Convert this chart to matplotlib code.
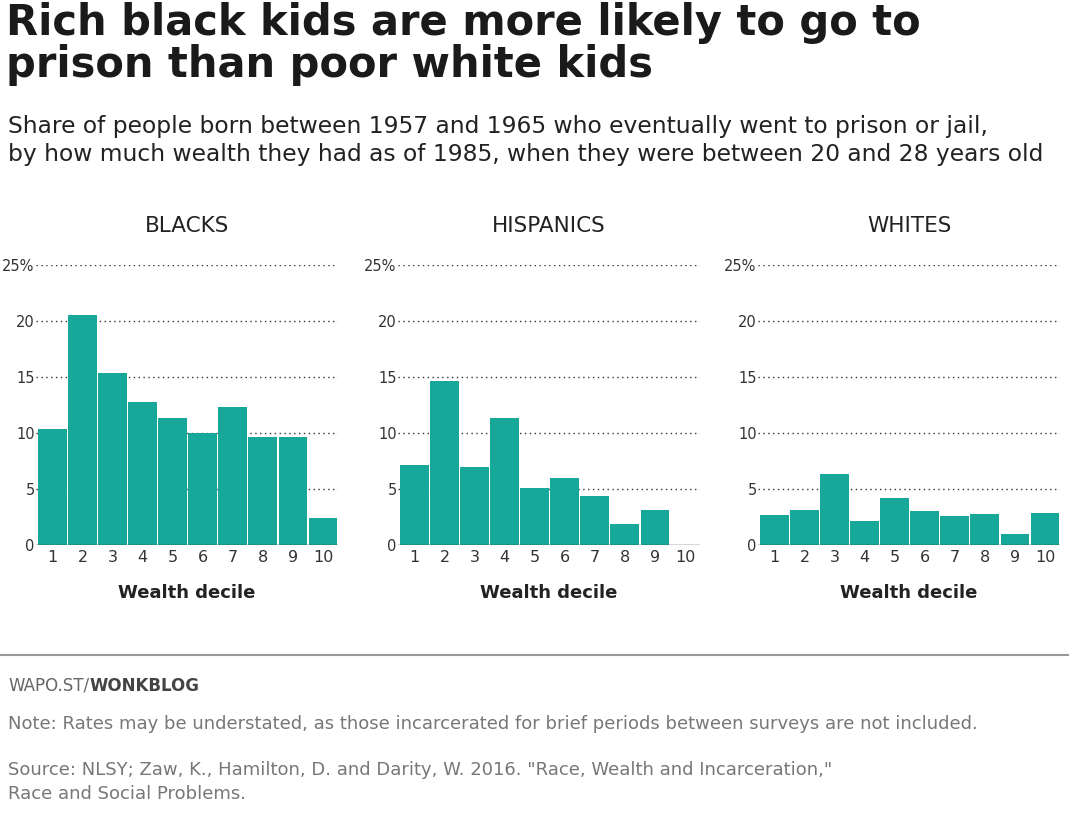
import numpy as np
import matplotlib.pyplot as plt

deciles = list(range(1, 11))
groups = ["BLACKS", "HISPANICS", "WHITES"]
blacks = [10.4, 20.5, 15.4, 12.8, 11.3, 10.0, 12.3, 9.6, 9.6, 2.4]
hispanics = [7.1, 14.6, 7.0, 11.3, 5.1, 6.0, 4.4, 1.9, 3.1, 0.0]
whites = [2.7, 3.1, 6.3, 2.1, 4.2, 3.0, 2.6, 2.8, 1.0, 2.9]
yticks = [0, 5, 10, 15, 20, 25]
ytick_labels = ["0", "5", "10", "15", "20", "25%"]

W, H = 1079, 814
fig = plt.figure(figsize=(W / 100, H / 100), dpi=100)
fig.patch.set_facecolor("white")
teal = "#17a89a"

fig.text(6 / W, 1 - 2 / H, "Rich black kids are more likely to go to\nprison than poor white kids",
         fontsize=30, fontweight="bold", color="#1a1a1a", va="top", linespacing=1.0)
fig.text(8 / W, 1 - 115 / H,
         "Share of people born between 1957 and 1965 who eventually went to prison or jail,\n"
         "by how much wealth they had as of 1985, when they were between 20 and 28 years old",
         fontsize=16.8, color="#222222", va="top", linespacing=1.3)

lefts = [36, 398, 758]
for left, name, vals in zip(lefts, groups, [blacks, hispanics, whites]):
    ax = fig.add_axes([left / W, 1 - 545 / H, 302 / W, 280 / H])
    ax.bar(deciles, vals, width=0.96, color=teal, zorder=2)
    ax.set_xlim(0.45, 10.5)
    ax.set_ylim(0, 25)
    ax.set_yticks(yticks)
    ax.set_yticklabels(ytick_labels)
    ax.set_xticks(deciles)
    for s in ax.spines.values():
        s.set_visible(False)
    ax.axhline(0, color="#333333", lw=1, zorder=3)
    for y in yticks[1:]:
        ax.axhline(y, color="#333333", lw=1, ls=(0, (1, 2.5)), zorder=1)
    ax.tick_params(axis="both", length=0, labelsize=11.5, colors="#333333")
    ax.tick_params(axis="y", pad=1, labelsize=10.5)
    ax.set_title(name, fontsize=15.5, color="#222222", pad=24)
    ax.set_xlabel("Wealth decile", fontsize=13, fontweight="bold", color="#222222", labelpad=14)

fig.add_artist(plt.Line2D([0, 1068 / W], [1 - 655 / H] * 2, color="#999999", lw=1.5))
fig.text(8 / W, 1 - 695 / H, "WAPO.ST/", fontsize=12, color="#666666", va="bottom")
fig.text(89 / W, 1 - 695 / H, "WONKBLOG", fontsize=12, color="#444444", fontweight="bold", va="bottom")
fig.text(8 / W, 1 - 733 / H,
         "Note: Rates may be understated, as those incarcerated for brief periods between surveys are not included.",
         fontsize=13, color="#777777", va="bottom")
fig.text(8 / W, 1 - 803 / H,
         "Source: NLSY; Zaw, K., Hamilton, D. and Darity, W. 2016. \"Race, Wealth and Incarceration,\"\n"
         "Race and Social Problems.",
         fontsize=13, color="#777777", va="bottom", linespacing=1.4)

fig.savefig("out.png", dpi=100)
